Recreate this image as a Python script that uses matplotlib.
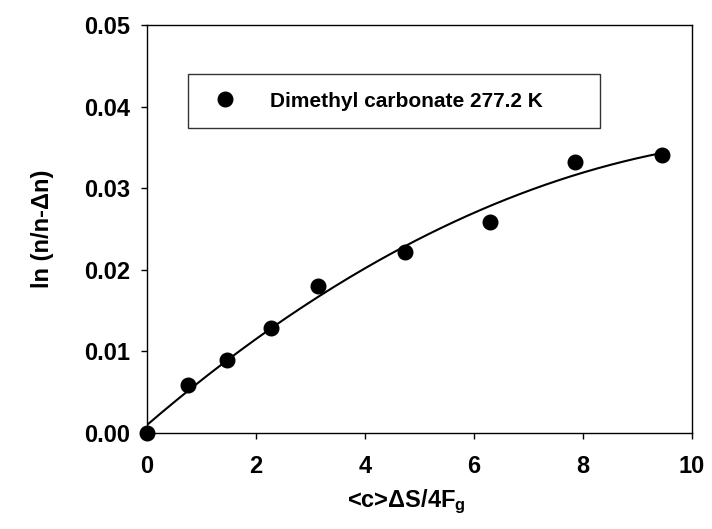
import numpy as np
import matplotlib
matplotlib.use("Agg")
import matplotlib.pyplot as plt

# values
x_vals = [0.0, 0.75, 1.46, 2.27, 3.13, 4.73, 6.29, 7.86, 9.45]
y_vals = [0.0, 0.0059, 0.0089, 0.0129, 0.0180, 0.0222, 0.0259, 0.0332, 0.0341]
series_label = "Dimethyl carbonate 277.2 K"
x_ticks = [0, 2, 4, 6, 8, 10]
y_ticks = [0.00, 0.01, 0.02, 0.03, 0.04, 0.05]

plt.rcParams['font.family'] = ['Liberation Sans', 'DejaVu Sans']
plt.rcParams['font.weight'] = 'bold'
plt.rcParams['mathtext.fontset'] = 'custom'
plt.rcParams['mathtext.bf'] = 'Liberation Sans:bold'
plt.rcParams['mathtext.rm'] = 'Liberation Sans:bold'
plt.rcParams['mathtext.it'] = 'Liberation Sans:bold'
plt.rcParams['mathtext.default'] = 'bf'

fig = plt.figure(figsize=(7.12, 5.29), dpi=100)
ax = fig.add_axes([0.2065, 0.1815, 0.7655, 0.7712])

# quadratic regression line, like the original curve fit
coef = np.polyfit(x_vals, y_vals, 2)
xs = np.linspace(0, max(x_vals), 200)
ax.plot(xs, np.polyval(coef, xs), color='black', lw=1.5, zorder=2)
ax.plot(x_vals, y_vals, 'o', color='black', ms=10.5, label=series_label,
        clip_on=False, zorder=3)

ax.set_xlim(0, 10)
ax.set_ylim(0, 0.05)
ax.set_xticks(x_ticks)
ax.set_yticks(y_ticks)
ax.set_xticklabels([str(t) for t in x_ticks])
ax.set_yticklabels(["%.2f" % t for t in y_ticks])
ax.tick_params(axis='both', labelsize=17, direction='out', length=4, width=1)
ax.tick_params(axis='x', pad=12)
ax.tick_params(axis='y', pad=8)
for s in ax.spines.values():
    s.set_linewidth(1.0)

ax.set_xlabel("<c>ΔS/4F$_g$", fontsize=17, fontweight='bold', labelpad=5)
ax.set_ylabel("ln (n/n-Δn)", fontsize=17, fontweight='bold', labelpad=22)
ax.xaxis.set_label_coords(0.475, -0.135)

leg = ax.legend(loc='upper left', bbox_to_anchor=(0.075, 0.75, 0.756, 0.13),
                mode='expand', fontsize=15, frameon=True, fancybox=False,
                borderpad=0.85, handlelength=1.9, handletextpad=1.2,
                numpoints=1, borderaxespad=0)
leg.get_frame().set_edgecolor('black')
leg.get_frame().set_linewidth(1.0)

fig.savefig("out.png", dpi=100)
